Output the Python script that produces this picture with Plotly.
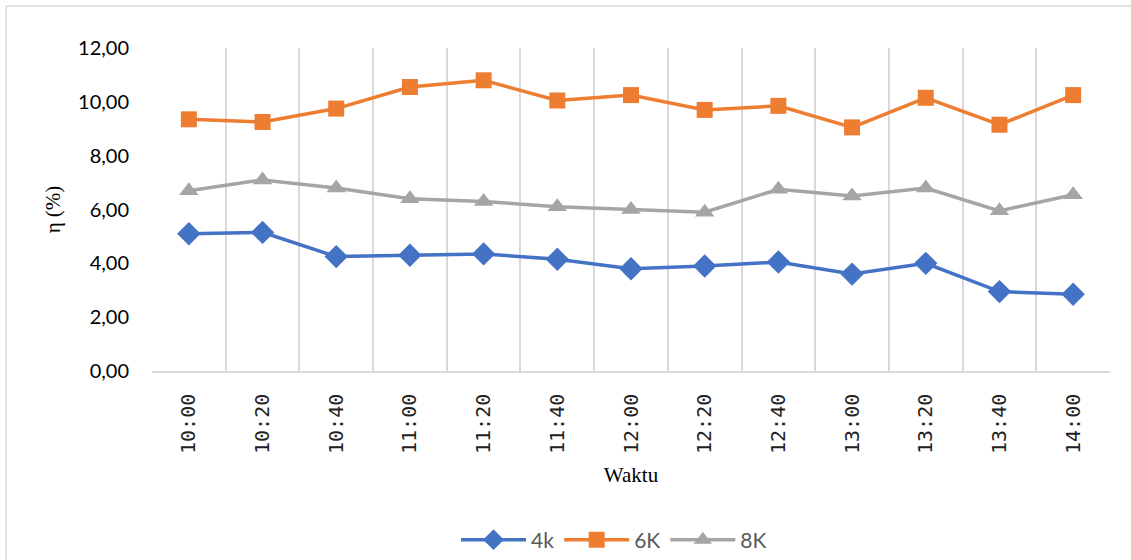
import plotly.graph_objects as go

times = ["10:00", "10:20", "10:40", "11:00", "11:20", "11:40", "12:00",
         "12:20", "12:40", "13:00", "13:20", "13:40", "14:00"]
eff_4k = [5.10, 5.15, 4.25, 4.30, 4.35, 4.15, 3.80, 3.90, 4.05, 3.60, 4.00, 2.95, 2.85]
eff_6k = [9.35, 9.25, 9.75, 10.55, 10.80, 10.05, 10.25, 9.70, 9.85, 9.05, 10.15, 9.15, 10.25]
eff_8k = [6.70, 7.10, 6.80, 6.40, 6.30, 6.10, 6.00, 5.90, 6.75, 6.50, 6.80, 5.95, 6.55]
y_ticks = [0, 2, 4, 6, 8, 10, 12]
y_labels = ["0,00", "2,00", "4,00", "6,00", "8,00", "10,00", "12,00"]

fig = go.Figure()
series = [
    ("4k", eff_4k, "#4472C4", "diamond", 18),
    ("6K", eff_6k, "#ED7D31", "square", 16),
    ("8K", eff_8k, "#A5A5A5", "triangle-up", 17),
]
for name, vals, col, sym, sz in series:
    fig.add_trace(go.Scatter(
        x=times, y=vals, name=name, mode="lines+markers",
        line=dict(color=col, width=3.5),
        marker=dict(symbol=sym, size=sz, color=col),
    ))

L, R, T, B = 152, 21, 48, 189
W, H = 1131, 560
pw, ph = W - L - R, H - T - B

def px(x):
    return (x - L) / pw

def py(y):
    return (H - B - y) / ph

fig.update_layout(
    width=W, height=H,
    margin=dict(l=L, r=R, t=T, b=B, autoexpand=False),
    paper_bgcolor="white", plot_bgcolor="white",
    showlegend=True,
    legend=dict(orientation="h", xref="container", yref="container",
                x=614 / W, xanchor="center", y=1 - 540 / H, yanchor="middle",
                font=dict(family="Lato", size=21, color="#595959"),
                itemwidth=65, tracegroupgap=0),
    xaxis=dict(
        type="category", tickson="boundaries", showgrid=True, automargin=False,
        gridcolor="#D9D9D9", gridwidth=1.5,
        showline=True, linecolor="#D9D9D9", linewidth=1.5,
        ticks="", tickangle=-90, ticklabelstandoff=13,
        tickfont=dict(family="DejaVu Sans Mono", size=20, color="#222222"),
        title=dict(text="Waktu", font=dict(family="Liberation Serif", size=21, color="black"),
                   standoff=14),
        range=[-0.5, 12.5],
    ),
    yaxis=dict(
        range=[0, 12], tickvals=y_ticks, ticktext=y_labels, automargin=False,
        showgrid=False, zeroline=False, showline=False,
        ticks="", ticklabelstandoff=22,
        tickfont=dict(family="Lato", size=20, color="black"),
        title=dict(text="η (%)", font=dict(family="Liberation Serif", size=21, color="black"),
                   standoff=11),
    ),
    shapes=[
        dict(type="line", xref="paper", yref="paper", x0=px(6), x1=px(W + 5), y0=py(6), y1=py(6),
             line=dict(color="#D9D9D9", width=1.5)),
        dict(type="line", xref="paper", yref="paper", x0=px(6), x1=px(6), y0=py(6), y1=py(H + 5),
             line=dict(color="#D9D9D9", width=1.5)),
    ],
)

fig.write_html("out.html")
